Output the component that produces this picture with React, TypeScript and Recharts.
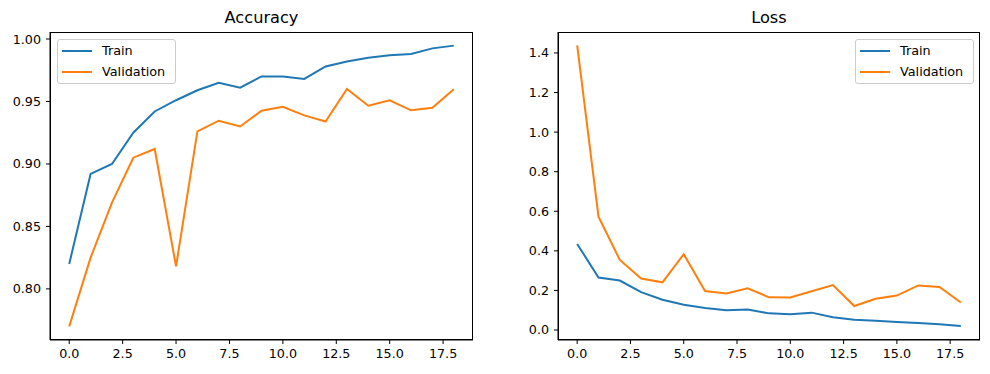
import React from 'react';
import { LineChart, Line, XAxis, YAxis } from 'recharts';

const epochs = [0, 1, 2, 3, 4, 5, 6, 7, 8, 9, 10, 11, 12, 13, 14, 15, 16, 17, 18];
const trainAcc = [0.820, 0.892, 0.900, 0.925, 0.942, 0.951, 0.959, 0.965, 0.961, 0.970, 0.970, 0.968, 0.978, 0.982, 0.985, 0.987, 0.988, 0.9925, 0.9947];
const valAcc = [0.770, 0.825, 0.869, 0.905, 0.912, 0.818, 0.926, 0.9346, 0.930, 0.9426, 0.9458, 0.9389, 0.934, 0.960, 0.9466, 0.951, 0.9429, 0.945, 0.9597];
const trainLoss = [0.435, 0.265, 0.250, 0.191, 0.153, 0.128, 0.111, 0.0995, 0.103, 0.084, 0.079, 0.0877, 0.064, 0.052, 0.047, 0.0405, 0.0354, 0.029, 0.020];
const valLoss = [1.439, 0.573, 0.354, 0.260, 0.241, 0.383, 0.197, 0.184, 0.211, 0.165, 0.164, 0.196, 0.227, 0.121, 0.158, 0.174, 0.225, 0.217, 0.139];

const xTicks = [0, 2.5, 5, 7.5, 10, 12.5, 15, 17.5];
const accTicks = [0.8, 0.85, 0.9, 0.95, 1.0];
const lossTicks = [0, 0.2, 0.4, 0.6, 0.8, 1.0, 1.2, 1.4];

const accData = epochs.map((e, i) => ({ epoch: e, train: trainAcc[i], val: valAcc[i] }));
const lossData = epochs.map((e, i) => ({ epoch: e, train: trainLoss[i], val: valLoss[i] }));

const FONT = 'DejaVu Sans, sans-serif';
const BLUE = '#1f77b4';
const ORANGE = '#ff7f0e';
const series = [
  { key: 'train', name: 'Train', color: BLUE },
  { key: 'val', name: 'Validation', color: ORANGE },
];
const tickStyle = { fill: '#000', fontSize: 12.7, fontFamily: FONT };

const PLOT_TOP = 32;
const PLOT_BOTTOM = 340;

function LegendBox(props: { left: number; top: number }) {
  return (
    <div
      style={{
        position: 'absolute',
        left: props.left,
        top: props.top,
        border: '1px solid #cccccc',
        borderRadius: 3,
        background: 'rgba(255,255,255,0.8)',
        width: 119,
        height: 45,
        boxSizing: 'border-box',
        fontFamily: FONT,
        fontSize: 12.8,
        color: '#000',
      }}
    >
      {series.map((p, i) => (
        <div key={i} style={{ position: 'absolute', left: 4, top: 3 + i * 20.7, height: 16, display: 'flex', alignItems: 'center', whiteSpace: 'nowrap' }}>
          <div style={{ width: 30, height: 2, background: p.color }} />
          <span style={{ marginLeft: 10, lineHeight: '16px' }}>{p.name}</span>
        </div>
      ))}
    </div>
  );
}

function Panel(props: {
  data: any[];
  left: number;
  yWidth: number;
  marginRight: number;
  domain: [number, number];
  ticks: number[];
  digits: number;
  title: string;
  legendLeft: number;
}) {
  const { data, left, yWidth, marginRight, domain, ticks, digits, title, legendLeft } = props;
  const plotW = 495 - yWidth - marginRight;
  return (
    <div style={{ position: 'absolute', left, top: 0, width: 495, height: 374 }}>
      <div
        style={{
          position: 'absolute',
          left: yWidth,
          width: plotW,
          top: 8,
          textAlign: 'center',
          fontFamily: FONT,
          fontSize: 16.2,
          lineHeight: '20px',
          color: '#000',
        }}
      >
        {title}
      </div>
      <LineChart width={495} height={374} data={data} margin={{ top: PLOT_TOP, right: marginRight, bottom: 0, left: 0 }}>
        <XAxis
          dataKey="epoch"
          type="number"
          domain={[-0.9, 18.9]}
          ticks={xTicks}
          allowDataOverflow
          tickFormatter={(v: number) => v.toFixed(1)}
          tick={tickStyle}
          tickSize={4}
          tickMargin={5}
          height={374 - PLOT_BOTTOM}
          stroke="#000"
          tickLine={{ stroke: '#000' }}
          interval={0}
        />
        <YAxis
          type="number"
          domain={domain}
          ticks={ticks}
          allowDataOverflow
          tickFormatter={(v: number) => v.toFixed(digits)}
          tick={tickStyle}
          tickSize={4}
          tickMargin={5}
          width={yWidth}
          stroke="#000"
          tickLine={{ stroke: '#000' }}
          interval={0}
        />
        {series.map((s) => (
          <Line key={s.key} dataKey={s.key} name={s.name} stroke={s.color} strokeWidth={2} dot={false} isAnimationActive={false} />
        ))}
      </LineChart>
      <div
        style={{
          position: 'absolute',
          left: yWidth,
          top: PLOT_TOP,
          width: plotW,
          height: PLOT_BOTTOM - PLOT_TOP,
          border: '1px solid #000',
          boxSizing: 'border-box',
          pointerEvents: 'none',
        }}
      />
      <LegendBox left={legendLeft} top={39} />
    </div>
  );
}

export default function App() {
  return (
    <div style={{ position: 'absolute', left: 0, top: 0, width: 990, height: 374, background: '#fff' }}>
      <Panel
        data={accData}
        left={0}
        yWidth={50}
        marginRight={22}
        domain={[0.7591, 1.0056]}
        ticks={accTicks}
        digits={2}
        title="Accuracy"
        legendLeft={57}
      />
      <Panel
        data={lossData}
        left={495}
        yWidth={63}
        marginRight={10}
        domain={[-0.0506, 1.506]}
        ticks={lossTicks}
        digits={1}
        title="Loss"
        legendLeft={360}
      />
    </div>
  );
}
